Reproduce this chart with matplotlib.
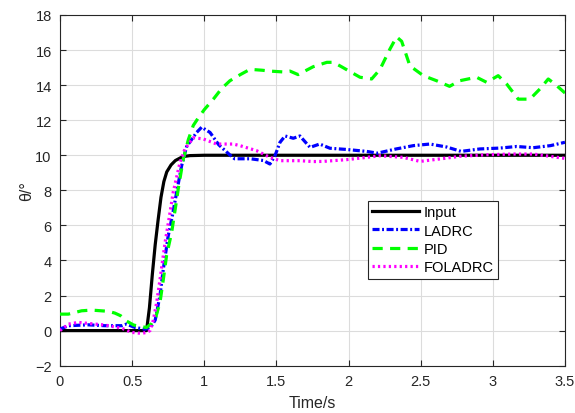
import matplotlib
matplotlib.use("Agg")
import matplotlib.pyplot as plt

plt.rcParams['font.family'] = ['Liberation Sans', 'DejaVu Sans']

# Reference signal
t_input = [0, 0.6, 0.62, 0.64, 0.66, 0.68, 0.70, 0.72, 0.74, 0.77, 0.80, 0.85, 0.90, 1.0, 3.5]
y_input = [0, 0, 1.3, 3.2, 4.9, 6.3, 7.6, 8.5, 9.05, 9.45, 9.7, 9.92, 9.98, 10, 10]

# LADRC response
t_ladrc = [0, 0.06, 0.196, 0.31, 0.43, 0.46, 0.52, 0.59, 0.63, 0.66, 0.693, 0.716, 0.75,
           0.78, 0.809, 0.843, 0.878, 0.947, 0.982, 1.04, 1.10, 1.14, 1.18, 1.21, 1.32,
           1.41, 1.455, 1.49, 1.525, 1.56, 1.617, 1.663, 1.733, 1.80, 1.871, 1.987,
           2.125, 2.20, 2.33, 2.45, 2.564, 2.68, 2.78, 2.91, 3.049, 3.165, 3.28, 3.40, 3.5]
y_ladrc = [0.09, 0.28, 0.33, 0.28, 0.28, 0.37, 0.18, 0.08, 0.2, 0.6, 2.0, 3.5, 5.4,
           6.6, 7.9, 9.4, 10.5, 11.3, 11.6, 11.3, 10.6, 10.3, 10.0, 9.8, 9.8,
           9.7, 9.5, 9.97, 10.74, 11.1, 10.97, 11.1, 10.45, 10.64, 10.4, 10.33,
           10.22, 10.12, 10.36, 10.55, 10.64, 10.47, 10.22, 10.36, 10.41, 10.5, 10.43, 10.55, 10.74]

# PID response
t_pid = [0, 0.058, 0.15, 0.22, 0.335, 0.38, 0.42, 0.46, 0.51, 0.55, 0.60, 0.635, 0.665,
         0.693, 0.716, 0.739, 0.774, 0.80, 0.82, 0.855, 0.89, 0.924, 0.956, 1.0, 1.063,
         1.12, 1.178, 1.25, 1.317, 1.40, 1.455, 1.55, 1.594, 1.65, 1.755, 1.85, 1.894,
         1.94, 2.079, 2.16, 2.218, 2.287, 2.333, 2.368, 2.425, 2.518, 2.61, 2.70, 2.77,
         2.887, 2.957, 3.037, 3.096, 3.176, 3.257, 3.326, 3.384, 3.43, 3.5]
y_pid = [0.94, 0.94, 1.13, 1.17, 1.1, 1.0, 0.85, 0.55, 0.32, 0.24, 0.18, 0.4, 0.8,
         1.6, 2.9, 4.3, 5.6, 7.0, 8.1, 9.8, 10.9, 11.7, 12.1, 12.6, 13.2,
         13.8, 14.25, 14.6, 14.9, 14.85, 14.8, 14.75, 14.8, 14.6, 15.05, 15.3, 15.3,
         15.1, 14.45, 14.35, 14.9, 16.06, 16.75, 16.5, 15.1, 14.54, 14.25, 13.93, 14.25,
         14.45, 14.16, 14.54, 14.06, 13.2, 13.2, 13.78, 14.35, 14.06, 13.55]

# FOLADRC response
t_fol = [0, 0.058, 0.127, 0.196, 0.31, 0.43, 0.497, 0.566, 0.60, 0.624, 0.647, 0.67,
         0.693, 0.728, 0.76, 0.785, 0.832, 0.866, 0.924, 0.993, 1.086, 1.2, 1.247,
         1.363, 1.455, 1.525, 1.663, 1.755, 1.825, 1.987, 2.125, 2.218, 2.379, 2.495,
         2.633, 2.772, 2.957, 3.14, 3.28, 3.396, 3.5]
y_fol = [0.0, 0.37, 0.47, 0.41, 0.32, 0.13, -0.1, -0.16, -0.1, 0.0, 0.6, 1.6,
         2.9, 5.0, 6.6, 7.9, 9.6, 10.36, 11.0, 10.93, 10.64, 10.64, 10.55,
         10.26, 9.88, 9.69, 9.69, 9.64, 9.65, 9.75, 9.88, 9.97, 9.88, 9.65,
         9.79, 9.94, 10.03, 10.07, 10.07, 9.94, 9.82]

x_ticks = [0, 0.5, 1, 1.5, 2, 2.5, 3, 3.5]
x_ticklabels = ['0', '0.5', '1', '1.5', '2', '2.5', '3', '3.5']
y_ticks = [-2, 0, 2, 4, 6, 8, 10, 12, 14, 16, 18]
y_ticklabels = ['\u22122', '0', '2', '4', '6', '8', '10', '12', '14', '16', '18']

fig = plt.figure(figsize=(5.75, 4.14), dpi=100)
ax = fig.add_axes([0.1043, 0.1143, 0.8783, 0.8471])

lw = 2.3
ax.plot(t_input, y_input, color='black', lw=lw, label='Input', zorder=3)
ax.plot(t_ladrc, y_ladrc, color='#0000ff', lw=lw, linestyle=(0, (2.2, 0.8, 0.6, 0.8)),
        label='LADRC', zorder=4)
ax.plot(t_pid, y_pid, color='#00ff00', lw=lw, linestyle=(0, (3.2, 2.3)),
        label='PID', zorder=4)
ax.plot(t_fol, y_fol, color='#ff00ff', lw=lw, linestyle=(0, (0.7, 1.0)),
        label='FOLADRC', zorder=5)

ax.set_xlim(0, 3.5)
ax.set_ylim(-2, 18)
ax.set_xticks(x_ticks)
ax.set_xticklabels(x_ticklabels)
ax.set_yticks(y_ticks)
ax.set_yticklabels(y_ticklabels)

ax.grid(True, color='#dcdcdc', lw=0.8)
ax.set_axisbelow(True)
for s in ax.spines.values():
    s.set_color('#262626')
    s.set_linewidth(0.8)
ax.tick_params(direction='in', length=4, width=0.8, colors='#262626',
               top=True, right=True, labelsize=10.5, pad=6)

ax.set_xlabel('Time/s', fontsize=11.5, color='#262626', labelpad=5)
ax.set_ylabel('\u03b8/\u00b0', fontsize=11.5, color='#262626', labelpad=1)

leg = ax.legend(loc='upper left', bbox_to_anchor=(0.61, 0.47), fontsize=10.5,
                handlelength=3.2, handletextpad=0.3, labelspacing=0.3,
                borderpad=0.3, borderaxespad=0, fancybox=False, framealpha=1)
leg.get_frame().set_edgecolor('#262626')
leg.get_frame().set_linewidth(0.8)

fig.savefig('out.png', dpi=100)
